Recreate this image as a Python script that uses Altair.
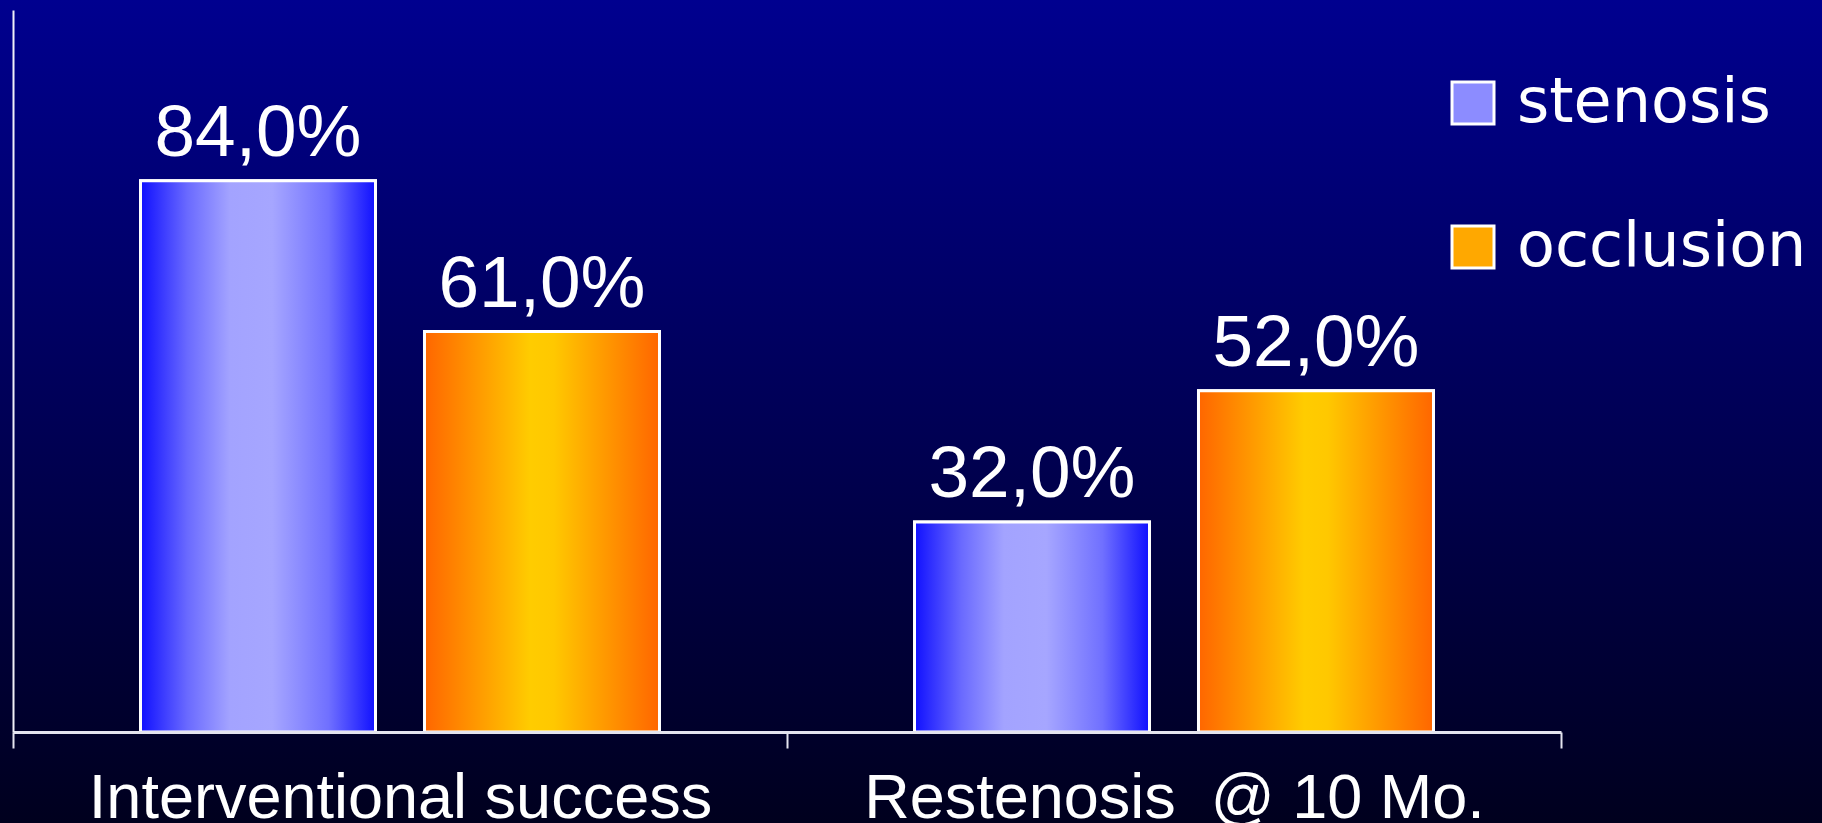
import altair as alt
import pandas as pd

categories = ["Interventional success", "Restenosis\u00a0 @ 10 Mo."]
series = ["stenosis", "occlusion"]
stenosis_values = [84.0, 32.0]
occlusion_values = [61.0, 52.0]

rows = []
for i, c in enumerate(categories):
    for s, vals in (("stenosis", stenosis_values), ("occlusion", occlusion_values)):
        v = vals[i]
        rows.append({"category": c, "series": s, "value": v,
                     "label": f"{v:.1f}%".replace(".", ",")})
df = pd.DataFrame(rows)

grad_blue = {"gradient": "linear", "x1": 0, "y1": 0, "x2": 1, "y2": 0,
             "stops": [{"offset": 0, "color": "#1010ff"},
                       {"offset": 0.2, "color": "#6a6aff"},
                       {"offset": 0.38, "color": "#a3a3ff"},
                       {"offset": 0.56, "color": "#a6a6ff"},
                       {"offset": 0.8, "color": "#7070ff"},
                       {"offset": 1, "color": "#1010ff"}]}
grad_orange = {"gradient": "linear", "x1": 0, "y1": 0, "x2": 1, "y2": 0,
               "stops": [{"offset": 0, "color": "#ff6600"},
                         {"offset": 0.45, "color": "#ffcc00"},
                         {"offset": 0.55, "color": "#ffc800"},
                         {"offset": 1, "color": "#ff6600"}]}
grad_bg = {"gradient": "linear", "x1": 0, "y1": 0, "x2": 0, "y2": 1,
           "stops": [{"offset": 0, "color": "#00008f"},
                     {"offset": 1, "color": "#00001e"}]}

x_enc = alt.X("category:N", sort=categories,
              scale=alt.Scale(paddingInner=0, paddingOuter=0),
              axis=alt.Axis(title=None, labelAngle=0, tickBand="extent", zindex=1))
xo_enc = alt.XOffset("series:N", sort=series,
                     scale=alt.Scale(paddingInner=0.1725, paddingOuter=0.449))
y_enc = alt.Y("value:Q", scale=alt.Scale(domain=[0, 110], nice=False),
              axis=alt.Axis(title=None, ticks=False, labels=False, grid=False, zindex=1))

bg = alt.Chart(pd.DataFrame({"k": [0]})).mark_rect(fill=grad_bg).encode(
    x=alt.value(-13), x2=alt.value(1809), y=alt.value(-10), y2=alt.value(813)
)

base = alt.Chart(df)

bars_legend = base.mark_bar(stroke="white", strokeWidth=3).encode(
    x=x_enc, xOffset=xo_enc, y=y_enc,
    fill=alt.Fill("series:N", sort=series,
                  scale=alt.Scale(domain=series, range=["#8c8cff", "#ffa800"]),
                  legend=alt.Legend(title=None, orient="none", legendX=1429, legendY=62,
                                    symbolType="square", symbolSize=1764,
                                    symbolStrokeColor="white", symbolStrokeWidth=3,
                                    symbolOpacity=1, zindex=1,
                                    labelFont="DejaVu Sans", labelFontSize=62,
                                    labelColor="white", labelOffset=13,
                                    rowPadding=82, padding=0, labelLimit=0))
)

bars_grad = base.mark_bar(stroke="white", strokeWidth=3).encode(
    x=x_enc, xOffset=xo_enc, y=y_enc,
    fill=alt.when(alt.datum.series == "stenosis")
        .then(alt.value(grad_blue))
        .otherwise(alt.value(grad_orange))
)

labels = base.mark_text(baseline="alphabetic", dy=-25, fontSize=73,
                        font="Liberation Sans", fill="white").encode(
    x=x_enc, xOffset=xo_enc, y=y_enc, text="label:N"
)

chart = alt.layer(bg, bars_legend, bars_grad, labels).properties(
    width=1548, height=722,
    autosize=alt.AutoSizeParams(type="none"),
    padding={"left": 13, "top": 10, "right": 261, "bottom": 91},
    background="#00001e",
).configure_view(stroke=None).configure_axisX(
    domainColor="#e4e4f0", domainWidth=3, tickColor="#e4e4f0", tickWidth=2,
    tickSize=16, labelFont="Liberation Sans", labelFontSize=63, labelColor="white",
    labelPadding=19, labelLimit=0
).configure_axisY(
    domainColor="#f0f0f8", domainWidth=2
)

chart.save("out.html", embed_options={"renderer": "svg", "actions": False})
